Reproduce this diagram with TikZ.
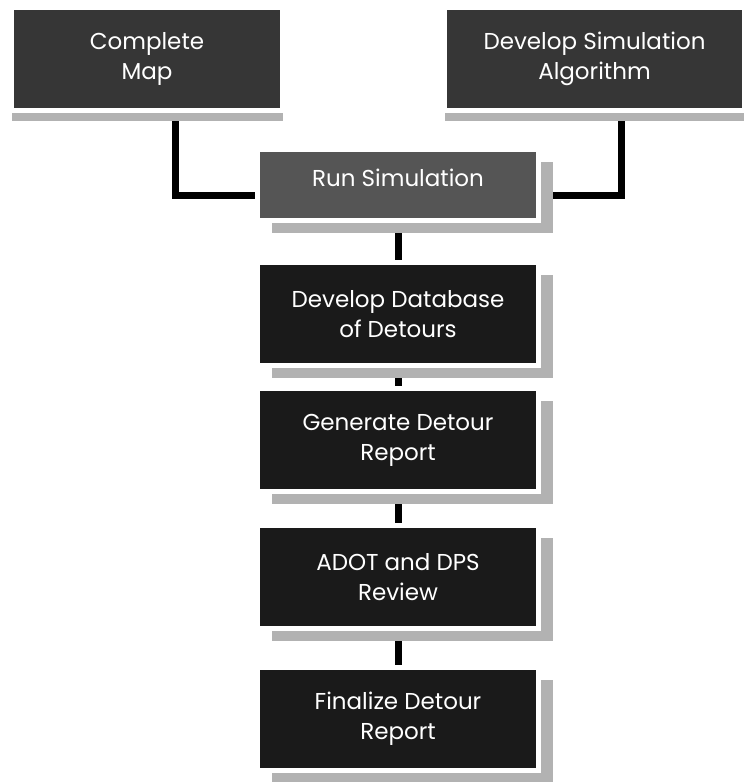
\documentclass[tikz,border=0pt]{standalone}
\usepackage{fontspec}
\setmainfont{Poppins}
\usetikzlibrary{positioning, shadows, backgrounds}

\definecolor{boxblack}{HTML}{1A1A1A}
\definecolor{topgray}{HTML}{363636}
\definecolor{rungray}{HTML}{555555}
\definecolor{shadegray}{HTML}{B2B2B2}

\tikzset{
	basebox/.style={rectangle, draw=white, line width=5pt, text=white, align=center, inner sep=0pt, font=\fontsize{23}{30}\selectfont},
	stepbox/.style={basebox, fill=boxblack, minimum width=281pt, minimum height=103pt, drop shadow={shadow xshift=14pt, shadow yshift=-12pt, fill=shadegray, opacity=1}},
	topbox/.style={basebox, fill=topgray, minimum height=103pt, drop shadow={shadow xshift=0pt, shadow yshift=-10pt, fill=shadegray, opacity=1}},
	link/.style={line width=7pt, black},
}

\begin{document}
\begin{tikzpicture}[x=1pt, y=-1pt]
	\useasboundingbox (0,0) rectangle (744,782);
	\node[topbox, minimum width=271pt] (map) at (147, 59) {Complete\\Map};
	\node[topbox, minimum width=300pt] (algo) at (594.5, 59) {Develop Simulation\\Algorithm};
	\node[stepbox, fill=rungray, minimum height=71pt, text depth=15pt] (run) at (398, 185) {Run Simulation};
	\node[stepbox] (db) at (398, 314) {Develop Database\\of Detours};
	\node[stepbox] (report) at (398, 440) {Generate Detour\\Report};
	\node[stepbox] (review) at (398, 577) {ADOT and DPS\\Review};
	\node[stepbox] (final) at (398, 719) {Finalize Detour\\Report};
	\begin{scope}[on background layer]
		\draw[link] ([xshift=28.5pt]map.south) |- ([yshift=-10pt]run.west);
		\draw[link] ([xshift=27pt]algo.south) |- ([yshift=-10pt]run.east);
		\draw[link] (run.south) -- (db.north);
		\draw[link] (db.south) -- (report.north);
		\draw[link] (report.south) -- (review.north);
		\draw[link] (review.south) -- (final.north);
	\end{scope}
\end{tikzpicture}
\end{document}
